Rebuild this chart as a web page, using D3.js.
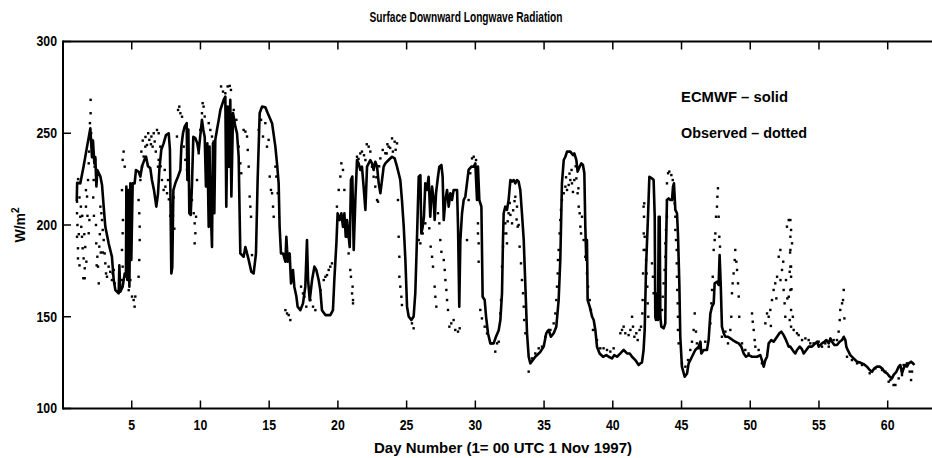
<!DOCTYPE html>
<html>
<head>
<meta charset="utf-8">
<script src="https://cdn.jsdelivr.net/npm/d3@7"></script>
<style>
  html, body { margin: 0; padding: 0; background: #fff; }
  svg { display: block; }
  text { font-family: "Liberation Sans", Arial, Helvetica, sans-serif; font-weight: bold; fill: #000; }
</style>
</head>
<body>
<svg id="chart" width="932" height="458"></svg>
<script>
// ---------------- DATA ----------------
const titleText = "Surface Downward Longwave Radiation";
const xLabelText = "Day Number (1= 00 UTC 1 Nov 1997)";
const legendLines = ["ECMWF \u2013 solid", "Observed \u2013 dotted"];
const xTicks = [5, 10, 15, 20, 25, 30, 35, 40, 45, 50, 55, 60];
const yTicks = [100, 150, 200, 250, 300];

// ECMWF model (solid line): [day, W/m2]
const ecmwf = [
[1.0,213],[1.03,223],[1.26,222.7],[1.5,232],[1.75,242.7],[1.99,252.7],[2.11,237],[2.18,246],[2.28,233.6],[2.35,237],[2.43,221],[2.5,230],[2.72,226.4],[2.84,221.8],[2.96,210],[3.08,199],[3.32,190],[3.56,182.7],[3.69,170],[3.81,164.5],[4.05,162.7],[4.1,178],[4.17,163.6],[4.34,166.4],[4.49,173.6],[4.58,172],[4.61,221],[4.68,170],[4.75,219],[4.83,166.4],[4.9,222.7],[4.97,181],[5.07,222.7],[5.21,222.7],[5.31,230],[5.5,229],[5.63,226.4],[5.75,232],[5.92,235.5],[6.04,237.3],[6.18,232],[6.35,231],[6.47,224.5],[6.62,219],[6.79,210],[6.91,217],[7.01,230],[7.15,241],[7.32,244.5],[7.49,249],[7.69,250],[7.78,241],[7.88,173.6],[7.95,177],[8.03,219],[8.17,222.7],[8.37,226.4],[8.54,230],[8.61,242.7],[8.73,250],[8.85,253.6],[9.0,255.5],[9.05,224.5],[9.12,252],[9.19,206.4],[9.29,205.5],[9.38,221],[9.48,248],[9.63,247.3],[9.77,244.5],[9.87,240],[9.97,247.3],[10.11,257.3],[10.21,251.8],[10.31,248],[10.4,221],[10.5,244.5],[10.6,199],[10.66,242.7],[10.72,215.5],[10.84,188],[10.91,244.5],[11.01,206.4],[11.08,246.4],[11.2,251.8],[11.33,257.3],[11.45,262.7],[11.57,265.5],[11.69,268.2],[11.81,270],[11.88,210],[11.98,264.5],[12.08,231.8],[12.17,268.2],[12.25,215.5],[12.37,261],[12.54,253.6],[12.66,250],[12.78,237.3],[12.85,206.4],[12.9,184.5],[13.14,182.7],[13.27,188],[13.51,181],[13.7,174.5],[13.87,173.6],[14.04,184.5],[14.16,224.5],[14.31,261],[14.48,264.5],[14.72,264.2],[14.89,261],[15.21,255.5],[15.45,242.7],[15.57,233.6],[15.69,222.7],[15.76,199],[15.86,184.5],[16.01,184.5],[16.18,180],[16.25,193.6],[16.35,180],[16.49,184.5],[16.59,168.2],[16.73,175.5],[16.83,166.4],[16.98,161],[17.07,155.5],[17.27,153.6],[17.46,157.3],[17.63,166.4],[17.75,191.8],[17.83,170],[17.95,159],[18.12,170],[18.29,177.3],[18.43,175.5],[18.6,170],[18.72,164.5],[18.84,153.6],[19.09,150.9],[19.45,150.9],[19.64,153.6],[19.74,170],[19.89,190],[19.98,206.4],[20.13,202.7],[20.25,206.4],[20.37,199],[20.47,206.4],[20.57,193.6],[20.66,202.7],[20.76,195.5],[20.86,188],[20.95,224.5],[21.05,226.4],[21.15,186.4],[21.27,213.6],[21.39,235.4],[21.51,233.6],[21.63,230],[21.75,231.8],[21.87,220.9],[22.0,208.2],[22.12,231.8],[22.24,233.6],[22.36,235.4],[22.48,233.6],[22.6,230],[22.72,234.5],[22.85,231.8],[22.97,222.7],[23.09,217.3],[23.21,224.5],[23.33,231.8],[23.45,233.6],[23.69,235.4],[23.94,237.2],[24.13,236.3],[24.3,231.8],[24.42,228.2],[24.54,224.5],[24.66,213.6],[24.79,199.1],[24.91,180.9],[25.03,155.5],[25.15,150.1],[25.34,148.2],[25.51,150.1],[25.63,162.8],[25.75,191.8],[25.88,226.3],[26.0,227.2],[26.07,195.4],[26.17,199.1],[26.26,204.5],[26.36,222.7],[26.48,219.1],[26.6,226.3],[26.72,204.5],[26.85,220.9],[26.97,213.6],[27.04,202.7],[27.14,217.3],[27.28,226.3],[27.38,231.8],[27.53,232.7],[27.62,226.3],[27.7,202.7],[27.82,213.6],[27.94,219.1],[28.06,210],[28.18,217.3],[28.3,213.6],[28.42,219.1],[28.67,219.1],[28.74,199.1],[28.83,155.5],[28.91,191.8],[29.03,206.4],[29.15,213.6],[29.27,215.4],[29.39,222.7],[29.51,230],[29.71,231.8],[29.88,231.8],[30.0,233.6],[30.12,213.6],[30.19,231.8],[30.29,213.6],[30.44,210],[30.53,160.9],[30.68,159.1],[30.78,150.1],[30.92,141],[31.09,135.5],[31.33,135.5],[31.5,139.1],[31.7,142.7],[31.82,148.2],[31.94,162.8],[32.01,191.8],[32.06,206.4],[32.18,210],[32.3,208.2],[32.42,213.6],[32.55,224.5],[32.67,223.6],[32.79,224.5],[32.91,222.7],[33.03,224.5],[33.15,223.6],[33.27,219.1],[33.39,206.4],[33.52,191.8],[33.64,166.4],[33.76,141],[33.88,128.2],[34.0,124.6],[34.19,126.4],[34.36,128.2],[34.61,130],[34.73,130.9],[34.97,133.7],[35.16,141],[35.33,142.8],[35.5,139.1],[35.7,141],[35.89,144.6],[36.06,159.1],[36.18,180.9],[36.3,222.7],[36.43,235.4],[36.55,237.2],[36.67,240],[36.91,240],[37.1,238.1],[37.2,239],[37.35,235.4],[37.44,229.1],[37.59,231.8],[37.71,233.6],[37.83,232.7],[37.93,228.2],[38.0,199.1],[38.07,180.9],[38.12,191.8],[38.17,159.1],[38.32,155.5],[38.49,150.1],[38.61,148.2],[38.73,142.8],[38.85,133.7],[39.04,130],[39.29,128.2],[39.53,129.1],[39.7,128.2],[39.94,127.3],[40.11,129.1],[40.31,128.2],[40.55,130],[40.79,131.9],[41.03,130],[41.23,130],[41.4,128.2],[41.64,126.4],[41.88,123.7],[42.0,124.6],[42.12,125],[42.24,131.9],[42.32,142.8],[42.42,177.3],[42.56,204.5],[42.66,226.3],[42.85,225.4],[42.97,224.5],[43.05,204.5],[43.09,150],[43.14,148.2],[43.22,162.8],[43.29,148.2],[43.34,204.5],[43.41,204.5],[43.46,150],[43.53,144.6],[43.7,143.7],[43.82,146.4],[43.87,186.4],[43.94,213.6],[44.06,214.5],[44.19,213.6],[44.31,213.6],[44.38,220.9],[44.45,222.7],[44.55,208.2],[44.67,206.4],[44.74,195.4],[44.84,168.2],[44.91,139.1],[45.03,122.8],[45.23,117.3],[45.4,119.1],[45.52,124.6],[45.76,128.2],[46.0,131.9],[46.25,133.7],[46.37,136.4],[46.44,130],[46.61,131.9],[46.85,131.9],[46.97,137.3],[47.1,151.8],[47.22,155.5],[47.34,157.3],[47.41,168.2],[47.58,169.1],[47.7,167.3],[47.77,183.6],[47.85,168.2],[47.94,144.6],[48.07,141],[48.19,139.1],[48.38,139.1],[48.55,138.2],[48.72,137.3],[48.91,136.4],[49.16,135.5],[49.35,133.7],[49.52,130],[49.69,128.2],[49.88,129.1],[50.13,128.2],[50.49,128.2],[50.73,129.1],[50.85,126.4],[50.98,122.8],[51.1,126.4],[51.22,128.2],[51.34,135.5],[51.53,137.3],[51.7,136.4],[51.95,139.1],[52.12,141],[52.26,141.9],[52.43,140],[52.6,137.3],[52.8,133.7],[52.92,133.7],[53.16,131],[53.28,130],[53.4,131.9],[53.6,133.7],[53.77,132.2],[53.89,130],[54.08,131.9],[54.25,133.7],[54.49,133.7],[54.74,135.5],[54.86,136.4],[54.98,133.7],[55.1,134.6],[55.22,135.5],[55.39,136.4],[55.54,137.3],[55.71,135.5],[55.83,138.2],[55.95,136.4],[56.12,134.6],[56.31,134.6],[56.51,136.4],[56.68,137.3],[56.8,139.1],[56.92,137.3],[56.99,133.7],[57.09,131.9],[57.28,129.1],[57.52,127.3],[57.77,125.5],[58.01,125],[58.25,124.2],[58.49,122.8],[58.69,121],[58.86,120],[59.03,121.9],[59.22,122.8],[59.42,122.8],[59.59,121.9],[59.76,120],[59.95,119.2],[60.14,117.4],[60.31,116.4],[60.43,118.3],[60.63,120],[60.8,122.8],[60.92,123.7],[61.04,119.2],[61.16,121.9],[61.28,123.7],[61.4,122.8],[61.53,124.6],[61.7,125.5],[61.84,124.6],[61.94,123.7]
];

// Observations (dotted): [day, W/m2]
const observed = [
[1.02,212.7],[1.02,206.4],[1.02,193.6],[1.09,187.3],[1.09,181.8],[1.05,200],[1.15,195],[1.2,178],[1.26,204.5],[1.33,199],[1.38,193.6],[1.43,187.3],[1.5,181.8],[1.58,176.4],[1.58,171],[1.48,171],[1.67,210],[1.67,219],[1.75,215.5],[1.82,224.5],[1.87,233.6],[1.87,195.5],[1.92,202.7],[1.96,255.5],[2.01,260.9],[2.01,268.2],[2.06,246.4],[2.11,242.7],[2.16,237.3],[2.23,224.5],[2.3,231.8],[2.35,235.5],[2.42,190],[2.5,182.7],[2.55,177.3],[2.6,168.2],[2.64,188.2],[2.72,210],[2.79,206.4],[2.84,202.7],[2.89,197.3],[2.96,191.8],[3.03,184.5],[3.08,179.1],[3.13,173.6],[3.2,171.8],[3.32,177.3],[3.44,174.5],[3.56,170],[3.61,173.6],[3.69,175.5],[3.76,168.2],
[1.1,225],[1.2,215],[1.3,210],[1.4,205],[1.55,195],[1.62,188],[1.7,180],[1.78,205],[1.9,240],[2.05,250],[2.2,215],[2.25,205],[2.4,200],[2.45,178],[2.68,195],[2.75,185],[2.9,185],
[4.29,219],[4.34,235.5],[4.41,240],[4.49,231.8],[4.36,202.7],[4.34,195.5],[4.29,186.4],[4.34,177.3],[4.29,170],[4.78,164.5],[4.9,170],[5.02,161],[5.14,159.1],[5.21,155.5],[5.26,161],[5.5,213.6],[5.55,206.4],[5.58,199.1],[5.58,191.8],[5.55,180.9],[5.5,171.8],
[5.63,224.5],[5.75,231.8],[5.87,237.3],[5.99,242.7],[6.11,243.6],[6.28,246.4],[6.43,248.2],[6.52,242.7],[6.67,245.5],[6.84,251.8],[6.96,250],[7.08,242.7],[6.96,235.5],[6.91,231.8],[7.2,224.5],[7.32,219.1],[7.45,220.9],[7.57,217.3],[7.64,224.5],[7.93,191.8],[8.0,205],[8.05,215],[8.1,198],
[5.7,240],[5.8,246],[6.0,248],[6.2,250],[6.4,244],[6.6,250],[6.75,240],[7.1,232],[7.4,230],[7.7,214],[7.8,205],
[8.29,248.2],[8.37,262.7],[8.46,264.5],[8.54,260.9],[8.66,259],[8.78,242.7],[8.9,235.5],[9.02,230],[9.14,224.5],[9.26,219.1],[9.38,213.6],[9.51,206.4],[9.58,200.9],[9.63,195.5],[9.58,190],[9.68,204.5],[9.75,224.5],[9.87,239.1],[9.99,251.8],[10.11,260.9],[10.16,266.4],[10.23,264.5],[10.31,259.1],[10.4,242.7],[10.48,237.3],[10.6,231.8],[10.72,226.4],
[10.6,255.5],[10.72,251.8],[10.84,248.2],[10.96,245.5],[11.5,275.5],[11.64,272.7],[11.81,271.8],[11.98,275.5],[12.13,275.8],[12.22,273.6],[12.42,262.7],[12.61,257.3],[12.78,242.7],[12.9,233.6],[12.97,228.2],[13.14,251.8],[13.27,250.9],[13.39,248.2],[13.44,240.9],[13.51,231.8],[13.58,215.5],[13.63,210],[13.68,204.5],[13.75,183.6],[14.24,251.8],[14.41,257.3],[14.55,248.2],[14.72,255.5],[14.84,242.7],[14.96,246.4],[15.04,226.4],[15.13,219.1],[15.21,217.3],[15.28,210],[15.33,204.5],[15.45,231.8],[15.52,226.4],[15.62,217.3],
[16.18,153.6],[16.3,151.8],[16.42,150.9],[16.54,148.2],[17.32,166.4],[17.46,162.7],[17.56,160.9],[17.7,155.5],[18.0,159.1],[18.19,155.5],[18.36,153.6],[18.72,164.5],[18.97,170],[19.09,171.8],[19.21,172.7],[19.33,175.5],[19.45,177.3],[19.57,179.1],[19.93,210],[20.06,219.1],[20.18,226.4],[20.25,233.6],[20.37,230],[20.47,219.1],[20.66,193.6],[20.78,184.5],[20.9,175.5],[20.95,171.8],[21.03,162.7],[21.1,159.1],[21.07,166.4],[21.1,157.3],
[21.39,237.2],[21.63,239],[21.75,240],[22.0,235.4],[22.24,242.7],[22.36,240],[22.48,231.8],[22.6,226.3],[22.72,220.9],[22.85,213.6],[22.92,212.7],[23.09,236.3],[23.26,240.9],[23.45,239.1],[23.55,239],[23.69,242.7],[23.8,242],[23.94,247.2],[24.13,245.4],[24.3,244.5],
[21.5,236],[21.9,238],[22.1,244],[22.8,226],[23.0,232],[23.6,244],[24.0,240],[24.2,241],
[24.37,213.6],[24.42,193.6],[24.47,182.7],[24.47,171.8],[24.54,166.4],[24.62,160.9],[24.66,156.4],[25.39,146.4],[25.51,143.7],
[25.88,191.8],[26.0,190],[26.17,195.4],[26.36,200.9],[26.65,198.2],[26.75,188.2],[26.85,182.7],[26.92,177.3],[27.04,166.4],[27.09,160.9],[27.16,155.5],[27.28,206.4],[27.38,200.9],[27.45,191.8],[27.53,185.4],[27.7,180.9],[27.77,175.5],[27.82,170],[27.89,164.6],[27.94,159.1],[28.01,153.7],[28.11,144.6],[28.25,146.4],[28.42,148.2],[28.54,142.8],[28.74,141.9],[28.86,143.7],
[29.39,191.8],[29.51,213.6],[29.63,228.2],[29.76,236.3],[29.88,237.2],[30.05,235.4],[30.19,200.9],[30.19,195.4],[30.24,190],[30.24,180],[30.36,153.7],[30.48,149.1],[30.68,144.6],[30.85,140.9],[31.16,135.5],[31.45,131],[31.7,136.4],
[31.58,135.5],[31.82,151.8],[31.87,159.1],[31.94,177.3],[32.01,188.2],[32.06,195.4],[32.18,200.9],[32.25,195.4],[32.3,190],[32.42,206.4],[32.55,205.5],[32.67,200.9],[32.91,215.4],[33.03,210],[33.08,199.1],[33.15,200],[33.22,188.2],[33.32,179.1],[33.39,170],[33.47,162.8],[33.52,155.5],[33.56,148.2],[33.64,141],[33.88,120.1],[34.12,127.3],[34.36,130],[34.61,132.8],[34.85,133.7],[35.09,139.1],[35.26,141.9],[35.46,142.8],[35.7,146.4],[35.82,151.8],[35.89,159.1],[35.94,166.4],[35.99,173.6],[36.01,180.9],[36.06,186.4],[36.13,195.4],[36.18,202.7],[36.23,208.2],[36.3,213.6],[36.43,217.3],[36.55,220.9],[36.67,219.1],[36.79,221.8],[36.91,224.5],[37.03,222.7],[37.2,224.5],[37.35,225.4],[37.44,217.3],[37.52,210],[37.59,206.4],[37.64,199.1],[37.69,195.4],[37.76,204.5],[37.88,191.8],[38.0,182.7],[38.12,173.6],[38.2,166.4],[38.32,159.1],[38.41,153.7],[38.56,142.8],[38.85,137.3],[39.09,132.8],[39.33,132.8],[39.58,131.9],[39.82,131],[40.06,132.8],[40.55,141],[40.67,142.8],[40.79,144.6],[40.91,141],[41.15,140],[41.28,142.8],[41.4,150],[41.47,144.6],[41.57,139.1],[41.71,141],[41.81,137.3],[41.95,142.8],[42.05,144.6],[42.15,151.8],[42.17,159.1],[42.2,173.6],[42.25,186.4],[42.25,195.4],[42.27,204.5],[42.29,211.8],
[32.35,202],[32.5,212],[32.75,208],[32.85,213],[33.0,203],[36.6,226],[36.85,228],[37.0,230],[37.1,218],[37.3,232],[37.5,220],
[42.24,210],[42.32,193.6],[42.37,186.4],[42.42,180.9],[42.46,173.6],[42.51,166.4],[42.54,157.3],[42.58,150],[42.85,179.1],[42.92,171.8],[42.97,162.8],[43.09,159.1],[43.22,153.7],[43.58,153.7],[43.63,160.9],[43.7,168.2],[43.77,175.5],[43.82,182.7],[43.82,190],[43.87,197.3],[43.94,204.5],[43.94,213.6],[43.94,222.7],[44.02,228.2],[44.11,229.1],[44.26,227.2],[44.36,224.5],[44.43,217.3],[44.5,211.8],[44.55,204.5],[44.55,197.3],[44.6,191.8],[44.65,186.4],[44.65,179.1],[44.67,171.8],[44.69,164.6],[44.72,157.3],[44.74,150],[44.74,142.8],[44.79,135.5],[45.03,124.6],[45.28,122.8],[45.47,126.4],[45.64,131.9],[45.76,136.4],[45.88,142.8],[45.96,151.8],[46.05,141.9],[46.12,135.5],[46.25,132.8],[46.37,135.5],[46.73,136.4],[47.1,146.4],[47.17,157.3],[47.22,164.6],[47.27,171.8],[47.34,186.4],[47.41,191.8],[47.46,195.4],[47.51,204.5],[47.58,210],[47.61,215.4],[47.65,220],[47.7,204.5],[47.75,193.6],[47.8,188.2],[47.94,139.1],[48.19,141.9],[48.38,135.5],[48.55,142.8],[48.62,150],[48.67,162.8],[48.72,168.2],[48.79,173.6],[48.87,180.9],[48.91,186.4],[48.99,180],[49.04,175.5],[49.11,168.2],[49.16,161],[49.2,150],[49.4,135.5],[49.64,131.9],[49.88,130],[50.13,151.8],[50.18,147.3],[50.25,142.8],[50.32,137.3],[50.37,133.7],[50.61,131.9],[50.85,124.6],[51.1,146.4],[51.22,151.8],[51.34,150],[51.46,153.7],[51.58,159.1],[51.7,164.6],[51.82,168.2],[51.95,171.8],[52.07,182.7],[52.19,186.4],[52.31,175.5],[52.43,164.6],[52.5,157.3],[52.55,150],[52.67,199.1],[52.8,202.7],[52.92,193.6],[52.92,177.3],[51.5,145],[51.9,160],[52.2,170],[52.4,180],[52.6,170],[52.7,160],[52.9,185],[53.0,165],[53.1,150],
[52.92,202.7],[52.97,197.3],[53.04,190],[52.92,186.4],[52.97,177.3],[52.87,174.5],[52.97,171.8],[52.92,164.6],[52.8,160.9],[52.97,153.7],[52.87,148.2],[52.97,144.6],[53.16,142.8],[53.4,141],[53.52,140],[53.77,137.3],[54.01,138.2],[54.25,137.3],[54.37,135.5],[54.61,135.5],[54.98,136.4],[55.22,133.7],[55.46,135.5],[55.71,133.7],[56.07,137.3],[56.31,137.3],[56.43,141.9],[56.51,148.2],[56.55,153.7],[56.68,157.3],[56.8,164.6],[56.75,159.1],[56.85,149.1],[57.04,128.2],[57.4,126.4],[57.77,124.6],[58.13,123.7],[58.69,119.2],[59.1,121.9],[59.59,121],[59.83,120.1],[60.07,114.6],[60.19,115.5],[60.43,112.8],[60.56,112.8],[60.8,116.4],[61.04,118.2],[61.16,123.7],[61.4,124.6],[61.6,120.1],[61.7,115.5],[61.77,120.1]
];

// ---------------- CHART ----------------
const svg = d3.select("#chart");
const W = 932, H = 458;
const plotLeft = 63, plotTop = 41.5, plotBottom = 408.5;

const x = d3.scaleLinear().domain([0, 64]).range([plotLeft, plotLeft + 64 * 13.745]);
const y = d3.scaleLinear().domain([100, 300]).range([plotBottom, plotTop]);

svg.append("defs").append("clipPath").attr("id", "plotclip")
  .append("rect").attr("x", plotLeft).attr("y", plotTop).attr("width", W - plotLeft).attr("height", plotBottom - plotTop);

const plot = svg.append("g").attr("clip-path", "url(#plotclip)");

// observed dots
plot.append("g").selectAll("rect").data(observed).join("rect")
  .attr("x", d => x(d[0]) - 1.2)
  .attr("y", d => y(d[1]) - 1.2)
  .attr("width", 2.4).attr("height", 2.4)
  .attr("fill", "#000");

// ECMWF solid
const line = d3.line().x(d => x(d[0])).y(d => y(d[1]));
plot.append("path").datum(ecmwf)
  .attr("d", line)
  .attr("fill", "none").attr("stroke", "#000")
  .attr("stroke-width", 2.6).attr("stroke-linejoin", "round");

// frame: left, top, bottom
const frame = svg.append("g").attr("stroke", "#000").attr("stroke-width", 2).attr("fill", "none");
frame.append("line").attr("x1", plotLeft).attr("x2", plotLeft).attr("y1", plotTop - 1).attr("y2", plotBottom + 1);
frame.append("line").attr("x1", plotLeft).attr("x2", W).attr("y1", plotTop).attr("y2", plotTop);
frame.append("line").attr("x1", plotLeft).attr("x2", W).attr("y1", plotBottom).attr("y2", plotBottom);

// inward ticks
const tickLen = 8;
svg.append("g").selectAll("line").data(xTicks).join("line")
  .attr("x1", d => x(d)).attr("x2", d => x(d))
  .attr("y1", plotBottom).attr("y2", plotBottom - tickLen)
  .attr("stroke", "#000").attr("stroke-width", 1.5);
svg.append("g").selectAll("line").data(xTicks).join("line")
  .attr("x1", d => x(d)).attr("x2", d => x(d))
  .attr("y1", plotTop).attr("y2", plotTop + tickLen)
  .attr("stroke", "#000").attr("stroke-width", 1.5);
svg.append("g").selectAll("line").data(yTicks).join("line")
  .attr("x1", plotLeft).attr("x2", plotLeft + tickLen)
  .attr("y1", d => y(d)).attr("y2", d => y(d))
  .attr("stroke", "#000").attr("stroke-width", 1.5);

// tick labels
svg.append("g").selectAll("text").data(xTicks).join("text")
  .attr("x", d => x(d)).attr("y", 430)
  .attr("text-anchor", "middle").attr("font-size", 14)
  .attr("transform", d => `translate(${x(d) * 0.12},0) scale(0.88,1)`)
  .text(d => d);
svg.append("g").selectAll("text").data(yTicks).join("text")
  .attr("x", 57).attr("y", d => y(d) + 5)
  .attr("text-anchor", "end").attr("font-size", 14)
  .attr("transform", `translate(${57 * 0.12},0) scale(0.88,1)`)
  .text(d => d);

// title
svg.append("text").attr("x", 466).attr("y", 22).attr("text-anchor", "middle")
  .attr("font-size", 14.5).attr("textLength", 193).attr("lengthAdjust", "spacingAndGlyphs")
  .text(titleText);

// x label
svg.append("text").attr("x", 503).attr("y", 453).attr("text-anchor", "middle")
  .attr("font-size", 15).attr("textLength", 258).attr("lengthAdjust", "spacingAndGlyphs")
  .text(xLabelText);

// y label
const yl = svg.append("text").attr("transform", "translate(25,225) rotate(-90)")
  .attr("text-anchor", "middle").attr("font-size", 14);
yl.append("tspan").text("W/m");
yl.append("tspan").attr("font-size", 10).attr("dy", -6).text("2");

// legend texts
svg.append("text").attr("x", 681).attr("y", 102).attr("font-size", 14)
  .attr("textLength", 107).attr("lengthAdjust", "spacingAndGlyphs").text(legendLines[0]);
svg.append("text").attr("x", 681).attr("y", 138).attr("font-size", 14)
  .attr("textLength", 126).attr("lengthAdjust", "spacingAndGlyphs").text(legendLines[1]);
</script>
</body>
</html>
